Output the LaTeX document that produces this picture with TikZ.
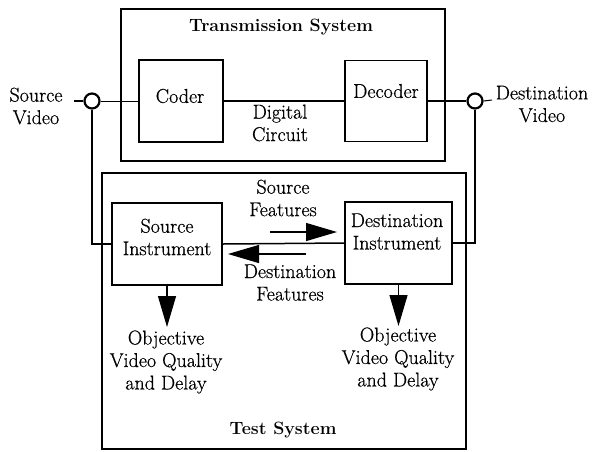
\documentclass[tikz,border=0pt]{standalone}
\usepackage{fontspec}
\setmainfont{Latin Modern Roman}[UprightFeatures={FakeBold=0.6}]
\usetikzlibrary{arrows.meta}
\begin{document}
\begin{tikzpicture}[x=1pt,y=-1pt,
  every node/.style={font=\fontsize{20}{22.5}\selectfont},
  box/.style={draw,line width=1.8pt,inner sep=0pt},
  txt/.style={align=center,inner sep=0pt},
  title/.style={inner sep=0pt,font=\fontsize{17.8}{20}\selectfont\bfseries},
  wire/.style={line width=1.5pt},
  thinwire/.style={line width=1pt},
  bigarrow/.style={line width=1.2pt,-{Triangle[length=31pt,width=18pt]}},
  port/.style={circle,draw,line width=2.2pt,minimum size=15pt,inner sep=0pt}]
\useasboundingbox (0,0) rectangle (594,451);

% enclosing systems
\node[box,line width=1.6pt,minimum width=324pt,minimum height=152pt] (trans) at (283,85) {};
\node[box,line width=1.6pt,minimum width=364pt,minimum height=276pt] (test) at (284,311) {};
\node[title] (transtitle) at (281,27) {Transmission System};
\node[title] (testtitle) at (283,430) {Test System};

% transmission chain
\node[box,minimum width=84pt,minimum height=82pt] (coder) at (181,101) {};
\node[box,minimum width=82pt,minimum height=81pt] (decoder) at (386,101) {};
\node[txt] (codertxt) at (180,96) {Coder};
\node[txt] (decodertxt) at (386,91) {Decoder};
\node[txt] (circuit) at (280,123) {Digital\\Circuit};

% taps on the video signals
\node[port] (srcport) at (92,101) {};
\node[port] (dstport) at (475,101) {};
\coordinate (svin) at (74,101);
\coordinate (dvout) at (492,100);
\node[txt] (srcvideo) at (36,106) {Source\\Video};
\node[txt] (dstvideo) at (542,104) {Destination\\Video};

% measuring instruments
\node[box,minimum width=110pt,minimum height=82pt] (srcinst) at (167,244) {};
\node[box,minimum width=107pt,minimum height=82pt] (dstinst) at (398.5,243) {};
\node[txt] (srcinsttxt) at (167,237) {Source\\Instrument};
\node[txt] (dstinsttxt) at (397,231.5) {Destination\\Instrument};

% signal wiring
\draw[wire] (svin) -- (srcport.west);
\draw[thinwire] (srcport.east) -- (coder.west);
\draw[wire] (coder.east) -- (decoder.west);
\draw[wire] (decoder.east) -- (dstport.west);
\draw[thinwire] (dstport.east) -- (dvout);
\draw[wire] (srcport.south) |- (srcinst.west);
\draw[wire] (dstport.south) |- (dstinst.east);
\draw[wire] (srcinst.east) -- (dstinst.west);

% feature exchange
\coordinate (sfA) at (270,232);
\coordinate (sfB) at (337,232);
\coordinate (dfA) at (306,254);
\coordinate (dfB) at (228,254);
\draw[bigarrow] (sfA) -- (sfB);
\draw[bigarrow] (dfA) -- (dfB);
\node[txt] (srcfeat) at (283,198) {Source\\Features};
\node[txt] (dstfeat) at (290,282.5) {Destination\\Features};

% quality outputs
\coordinate (srcq) at (167,327);
\coordinate (dstq) at (398.5,326);
\draw[bigarrow] (srcinst.south) -- (srcq);
\draw[bigarrow] (dstinst.south) -- (dstq);
\node[txt] (srcqual) at (166,362) {Objective\\Video Quality\\and Delay};
\node[txt] (dstqual) at (398,359) {Objective\\Video Quality\\and Delay};
\end{tikzpicture}
\end{document}
